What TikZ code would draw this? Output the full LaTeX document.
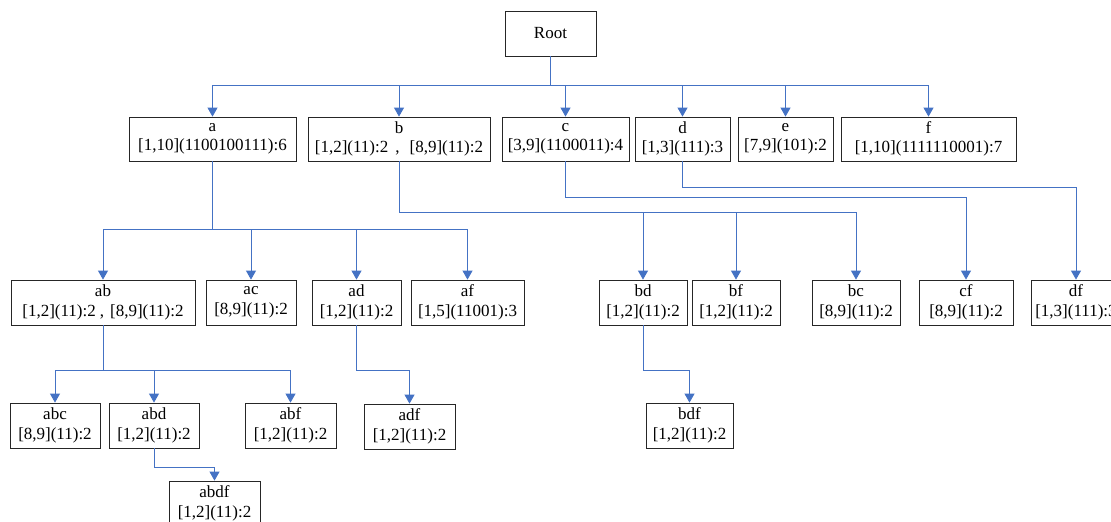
\documentclass[tikz,border=0pt]{standalone}
\usepackage{fontspec}
\setmainfont{Liberation Serif}
\usetikzlibrary{arrows.meta}
\definecolor{linkblue}{RGB}{68,114,196}

\begin{document}
\begin{tikzpicture}[x=1pt,y=-1pt,
  box/.style={draw=black!85,line width=.8pt,align=center,inner xsep=1pt,inner ysep=0pt,minimum height=44,font=\fontsize{17}{19.5}\selectfont},
  link/.style={draw=linkblue,line width=.9pt,-{Triangle[width=10pt,length=9pt]}}]
\path[use as bounding box] (0,0) rectangle (1111,522);
\clip (0,0) rectangle (1111,522);
\node[box,minimum width=91,minimum height=45] (root) at (550.5,33.5) {Root};
\node[box,minimum width=167] (a) at (212.5,139) {a\\{}[1,10](1100100111):6};
\node[box,minimum width=182] (b) at (399,139) {b\\{}[1,2](11):2\hspace{7pt},\hspace{10pt}[8,9](11):2};
\node[box,minimum width=127] (c) at (565.5,139) {c\\{}[3,9](1100011):4};
\node[box,minimum width=95] (d) at (682.5,139) {d\\{}[1,3](111):3};
\node[box,minimum width=95] (e) at (785.5,139) {e\\{}[7,9](101):2};
\node[box,minimum width=175] (f) at (928.5,139) {f\\{}[1,10](1111110001):7};
\node[box,minimum width=184,minimum height=45] (ab) at (103,302.5) {ab\\{}[1,2](11):2\hspace{4pt},\hspace{6pt}[8,9](11):2};
\node[box,minimum width=90,minimum height=45] (ac) at (251,302.5) {ac\\{}[8,9](11):2};
\node[box,minimum width=89,minimum height=45] (ad) at (356.5,302.5) {ad\\{}[1,2](11):2};
\node[box,minimum width=113,minimum height=45] (af) at (467.5,302.5) {af\\{}[1,5](11001):3};
\node[box,minimum width=88,minimum height=45] (bd) at (643,302.5) {bd\\{}[1,2](11):2};
\node[box,minimum width=88,minimum height=45] (bf) at (736,302.5) {bf\\{}[1,2](11):2};
\node[box,minimum width=88,minimum height=45] (bc) at (856,302.5) {bc\\{}[8,9](11):2};
\node[box,minimum width=94,minimum height=45] (cf) at (966,302.5) {cf\\{}[8,9](11):2};
\node[box,minimum width=90,minimum height=45] (df) at (1076,302.5) {df\\{}[1,3](111):3};
\node[box,minimum width=90,minimum height=45] (abc) at (55,425.5) {abc\\{}[8,9](11):2};
\node[box,minimum width=90,minimum height=45] (abd) at (154,425.5) {abd\\{}[1,2](11):2};
\node[box,minimum width=91,minimum height=45] (abf) at (290.5,425.5) {abf\\{}[1,2](11):2};
\node[box,minimum width=91,minimum height=45] (adf) at (409.5,426.5) {adf\\{}[1,2](11):2};
\node[box,minimum width=87,minimum height=45] (bdf) at (689.5,425.5) {bdf\\{}[1,2](11):2};
\node[box,minimum width=91,minimum height=45] (abdf) at (214.5,503.5) {abdf\\{}[1,2](11):2};
\draw[link] (root.south) -- ++(0,29) -| (a.north);
\draw[link] (root.south) -- ++(0,29) -| (b.north);
\draw[link] (root.south) -- ++(0,29) -| (c.north);
\draw[link] (root.south) -- ++(0,29) -| (d.north);
\draw[link] (root.south) -- ++(0,29) -| (e.north);
\draw[link] (root.south) -- ++(0,29) -| (f.north);
\draw[link] (a.south) -- ++(0,68) -| (ab.north);
\draw[link] (a.south) -- ++(0,68) -| (ac.north);
\draw[link] (a.south) -- ++(0,68) -| (ad.north);
\draw[link] (a.south) -- ++(0,68) -| (af.north);
\draw[link] (b.south) -- ++(0,51) -| (bd.north);
\draw[link] (b.south) -- ++(0,51) -| (bf.north);
\draw[link] (b.south) -- ++(0,51) -| (bc.north);
\draw[link] (c.south) -- ++(0,36) -| (cf.north);
\draw[link] (d.south) -- ++(0,26) -| (df.north);
\draw[link] (ab.south) -- ++(0,45) -| (abc.north);
\draw[link] (ab.south) -- ++(0,45) -| (abd.north);
\draw[link] (ab.south) -- ++(0,45) -| (abf.north);
\draw[link] (ad.south) -- ++(0,45) -| (adf.north);
\draw[link] (bd.south) -- ++(0,45) -| (bdf.north);
\draw[link] (abd.south) -- ++(0,19) -| (abdf.north);
\end{tikzpicture}
\end{document}
